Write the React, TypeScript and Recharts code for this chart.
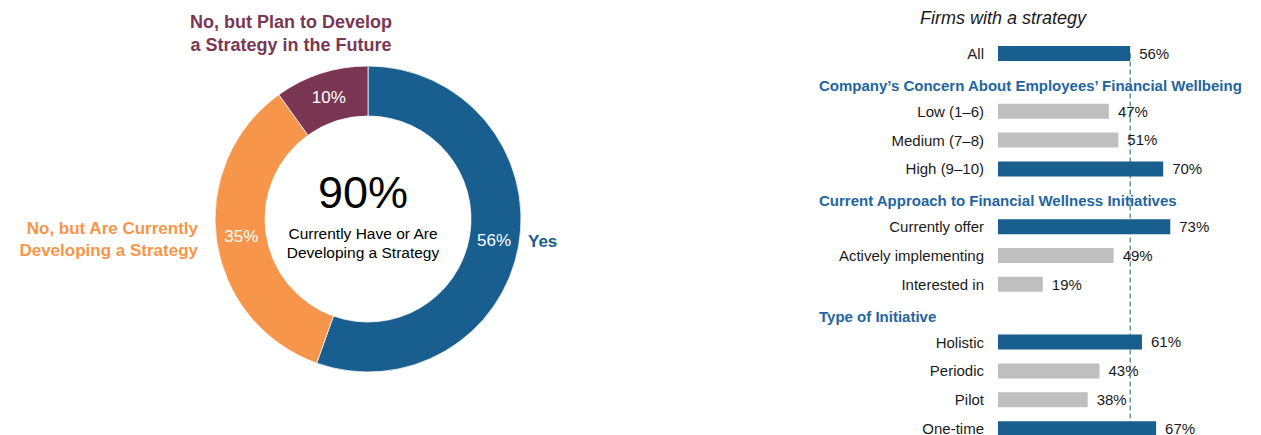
import React from 'react';
import { PieChart, Pie, Cell, BarChart, Bar, XAxis, YAxis, LabelList, ReferenceLine } from 'recharts';

// ---------- data ----------
const pieNames = ['Yes', 'No, but Are Currently Developing a Strategy', 'No, but Plan to Develop a Strategy in the Future'];
const pieValues = [56, 35, 10];
const centerValue = 90;
const centerCaption = ['Currently Have or Are', 'Developing a Strategy'];

const barTitle = 'Firms with a strategy';
const barCategories = [
  'All',
  'Company’s Concern About Employees’ Financial Wellbeing',
  'Low (1–6)',
  'Medium (7–8)',
  'High (9–10)',
  'Current Approach to Financial Wellness Initiatives',
  'Currently offer',
  'Actively implementing',
  'Interested in',
  'Type of Initiative',
  'Holistic',
  'Periodic',
  'Pilot',
  'One-time',
];
const barValues: (number | null)[] = [56, null, 47, 51, 70, null, 73, 49, 19, null, 61, 43, 38, 67];
const sectionHeaders = [
  'Company’s Concern About Employees’ Financial Wellbeing',
  'Current Approach to Financial Wellness Initiatives',
  'Type of Initiative',
];
const highlighted = ['All', 'High (9–10)', 'Currently offer', 'Holistic', 'One-time'];
const benchmark = 56;

// ---------- styles ----------
const FONT = '"Liberation Sans", Arial, Helvetica, sans-serif';
const BLUE = '#185E8E';
const ORANGE = '#F7964A';
const MAROON = '#7B3653';
const GRAY = '#BFBFBF';
const HEADER_BLUE = '#1F66A0';
const TEXT = '#1a1a1a';
const pieColors = [BLUE, ORANGE, MAROON];

const pieData = pieNames.map((name, i) => ({ name, value: pieValues[i] }));
const barData = barCategories.map((label, i) => ({ label, value: barValues[i] }));

const RADIAN = Math.PI / 180;

const renderPieLabel = (props: any) => {
  const { cx, cy, midAngle, innerRadius, outerRadius, value } = props;
  const r = (innerRadius + outerRadius) / 2;
  const x = cx + r * Math.cos(-midAngle * RADIAN);
  const y = cy + r * Math.sin(-midAngle * RADIAN);
  return (
    <text x={x} y={y} fill="#fff" fontSize={17} fontFamily={FONT} textAnchor="middle" dominantBaseline="central">
      {`${value}%`}
    </text>
  );
};

const CategoryTick = (props: any) => {
  const { y, payload } = props;
  const label = payload.value as string;
  if (sectionHeaders.includes(label)) {
    return (
      <text x={19} y={y + 3} fill={HEADER_BLUE} fontSize={15} fontWeight="bold" fontFamily={FONT} textAnchor="start" dominantBaseline="central">
        {label}
      </text>
    );
  }
  return (
    <text x={184} y={y} fill={TEXT} fontSize={15} fontFamily={FONT} textAnchor="end" dominantBaseline="central">
      {label}
    </text>
  );
};

export default function App() {
  return (
    <div style={{ position: 'absolute', left: 0, top: 0, width: 1261, height: 435, overflow: 'hidden', background: '#fff', fontFamily: FONT }}>
      <div style={{ position: 'absolute', left: 0, top: 0 }}>
        <PieChart width={560} height={435}>
          <Pie
            data={pieData}
            dataKey="value"
            nameKey="name"
            cx={363}
            cy={214}
            innerRadius={103}
            outerRadius={153}
            startAngle={90}
            endAngle={-270}
            stroke="#ffffff"
            strokeWidth={0.75}
            label={renderPieLabel}
            labelLine={false}
            isAnimationActive={false}
          >
            {pieData.map((d, i) => (
              <Cell key={d.name} fill={pieColors[i]} />
            ))}
          </Pie>
        </PieChart>
      </div>
      <div style={{ position: 'absolute', left: 800, top: 0 }}>
        <BarChart
          width={461}
          height={460}
          layout="vertical"
          data={barData}
          margin={{ top: 39, right: 27, bottom: 17, left: 0 }}
          barCategoryGap={0}
        >
          <XAxis type="number" domain={[0, 100]} hide />
          <YAxis
            type="category"
            dataKey="label"
            width={198}
            axisLine={false}
            tickLine={false}
            interval={0}
            tick={<CategoryTick />}
          />
          <ReferenceLine
            segment={[{ x: benchmark, y: 'All' }, { x: benchmark, y: 'One-time' }]}
            stroke={BLUE}
            strokeWidth={1}
            strokeDasharray="5 3"
          />
          <Bar dataKey="value" barSize={15} isAnimationActive={false}>
            {barData.map((d) => (
              <Cell key={d.label} fill={highlighted.includes(d.label) ? BLUE : GRAY} />
            ))}
            <LabelList
              dataKey="value"
              position="right"
              offset={9}
              fill={TEXT}
              fontSize={15}
              fontFamily={FONT}
              formatter={(v: any) => (v == null ? '' : `${v}%`)}
            />
          </Bar>
        </BarChart>
      </div>
      <svg width={1261} height={435} style={{ position: 'absolute', left: 0, top: 0, pointerEvents: 'none' }}>
        <g fontFamily={FONT}>
          <text x={363} y={208} fontSize={45} fill="#000" textAnchor="middle">{`${centerValue}%`}</text>
          <text x={363} y={239} fontSize={15.5} fill="#000" textAnchor="middle">{centerCaption[0]}</text>
          <text x={363} y={258} fontSize={15.5} fill="#000" textAnchor="middle">{centerCaption[1]}</text>

          <text x={528} y={247} fontSize={17} fontWeight="bold" fill={BLUE} textAnchor="start">{pieNames[0]}</text>

          <text x={198} y={234} fontSize={17} fontWeight="bold" fill={ORANGE} textAnchor="end">No, but Are Currently</text>
          <text x={198} y={256} fontSize={17} fontWeight="bold" fill={ORANGE} textAnchor="end">Developing a Strategy</text>

          <text x={291} y={28} fontSize={18} fontWeight="bold" fill={MAROON} textAnchor="middle">No, but Plan to Develop</text>
          <text x={291} y={51} fontSize={18} fontWeight="bold" fill={MAROON} textAnchor="middle">a Strategy in the Future</text>

          <text x={920} y={24} fontSize={18} fontStyle="italic" fill={TEXT} textAnchor="start">{barTitle}</text>
        </g>
      </svg>
    </div>
  );
}
